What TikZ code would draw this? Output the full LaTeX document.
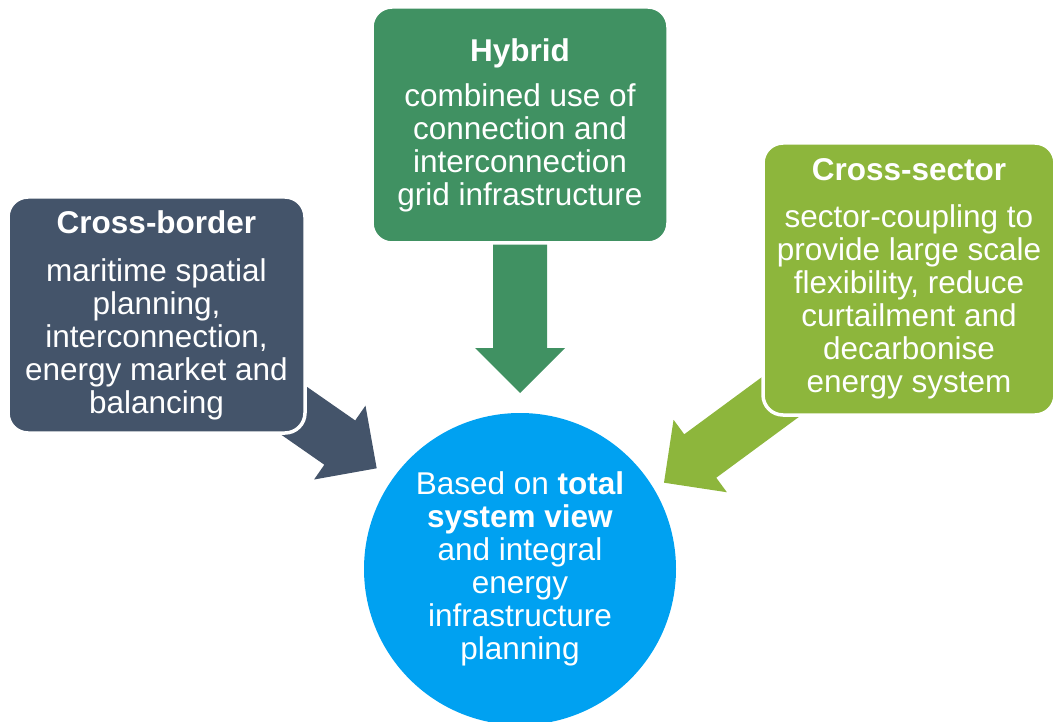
\documentclass[tikz,border=0pt]{standalone}
\usepackage{fontspec}
\setmainfont{Liberation Sans}
\usetikzlibrary{calc}
\definecolor{slate}{RGB}{68,84,106}
\definecolor{hybridgreen}{RGB}{64,145,98}
\definecolor{leafgreen}{RGB}{141,182,60}
\definecolor{skyblue}{RGB}{0,161,241}
\pgfdeclarelayer{background}
\pgfsetlayers{background,main}
\newcommand\blockarrow[3]{%
  \coordinate (ba) at ($(#3)!45pt!(#2)$);
  \fill[#1] ($(#2)!27pt!90:(#3)$)
    -- ($(ba)!27pt!-90:(#2)$)
    -- ($(ba)!45pt!-90:(#2)$)
    -- (#3)
    -- ($(ba)!45pt!90:(#2)$)
    -- ($(ba)!27pt!90:(#2)$)
    -- ($(#2)!27pt!-90:(#3)$)
    -- cycle;}
\begin{document}
\begin{tikzpicture}[x=1pt,y=-1pt,
  txt/.style={text=white, font=\fontsize{31.5}{33}\selectfont, align=center},
  box/.style={txt, rounded corners=20pt, draw=white, line width=3.5pt, inner sep=0pt}]
\useasboundingbox (0,0) rectangle (1053,722);
\clip (0,0) rectangle (1053,722);

\node[box, fill=slate, minimum width=297pt, minimum height=236pt] (cb) at (156.5,315)
  {\textbf{Cross-border}\\[15pt]maritime spatial\\planning,\\interconnection,\\energy market and\\balancing};
\node[box, fill=hybridgreen, minimum width=296pt, minimum height=236pt] (hy) at (520,125)
  {\textbf{Hybrid}\\[12pt]combined use of\\connection and\\interconnection\\grid infrastructure};
\node[box, fill=leafgreen, minimum width=292pt, minimum height=272pt] (cs) at (909,279)
  {\textbf{Cross-sector}\\[14pt]sector-coupling to\\provide large scale\\flexibility, reduce\\curtailment and\\decarbonise\\energy system};

\coordinate (cbt) at (376.7,468.3);
\coordinate (hyt) at (520,393);
\coordinate (css) at (800.9,381.9);
\coordinate (cst) at (664,482.7);

\begin{pgfonlayer}{background}
  \node[txt, circle, fill=skyblue, minimum size=312pt, inner sep=0pt] (view) at (520,569)
    {Based on \textbf{total}\\\textbf{system view}\\and integral\\energy\\infrastructure\\planning};
  \blockarrow{slate}{cb.center}{cbt}
  \blockarrow{hybridgreen}{hy.center}{hyt}
  \blockarrow{leafgreen}{css}{cst}
\end{pgfonlayer}
\end{tikzpicture}
\end{document}
